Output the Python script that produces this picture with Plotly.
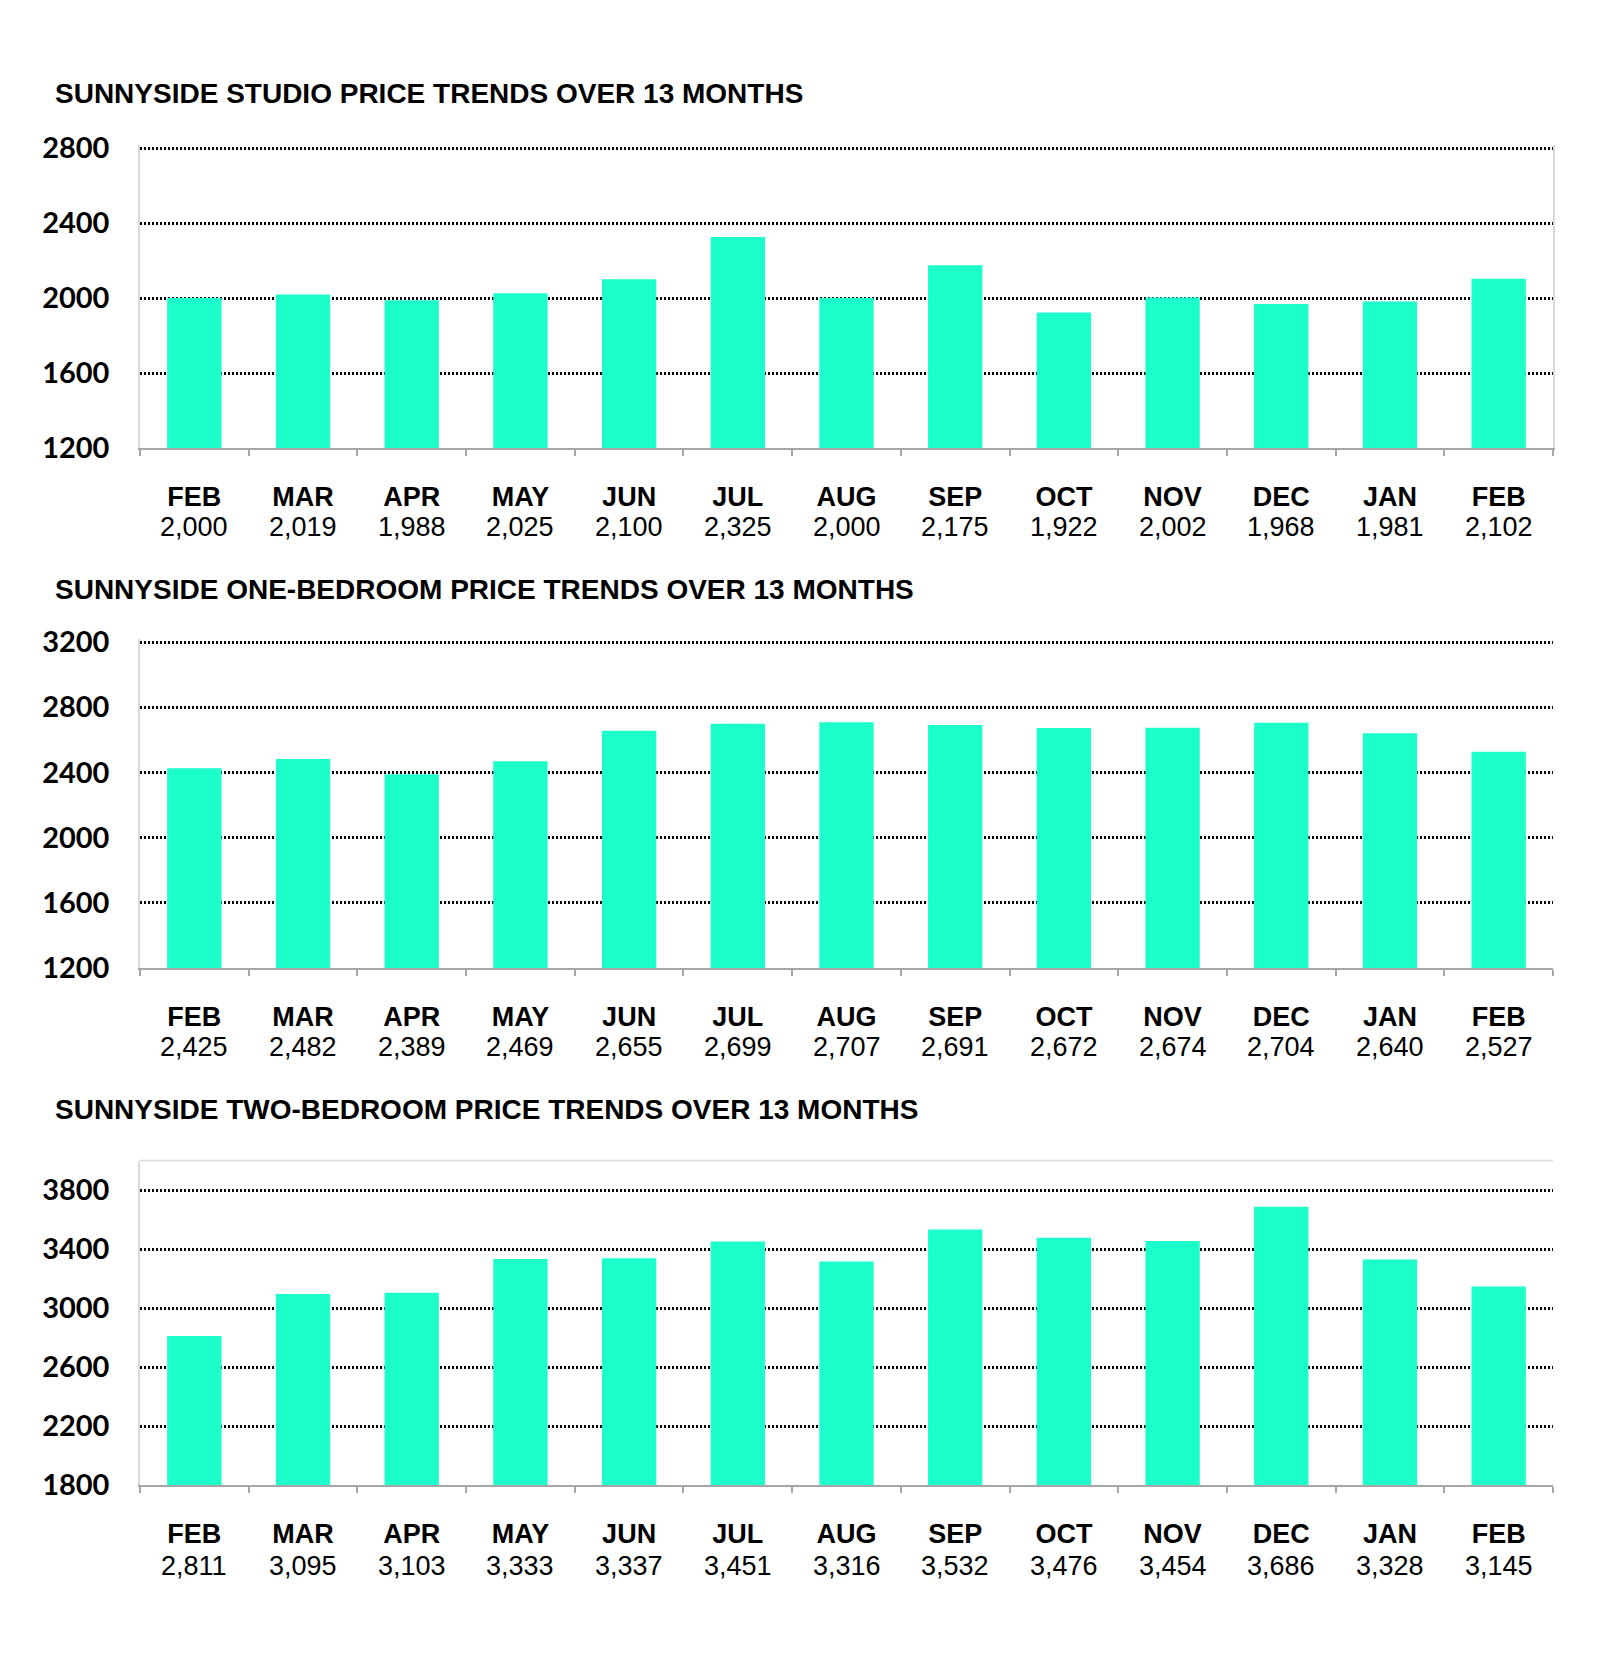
import plotly.graph_objects as go

# ---- data ----
months = ["FEB", "MAR", "APR", "MAY", "JUN", "JUL", "AUG", "SEP", "OCT", "NOV", "DEC", "JAN", "FEB"]
studio = [2000, 2019, 1988, 2025, 2100, 2325, 2000, 2175, 1922, 2002, 1968, 1981, 2102]
one_bedroom = [2425, 2482, 2389, 2469, 2655, 2699, 2707, 2691, 2672, 2674, 2704, 2640, 2527]
two_bedroom = [2811, 3095, 3103, 3333, 3337, 3451, 3316, 3532, 3476, 3454, 3686, 3328, 3145]
titles = [
    "SUNNYSIDE STUDIO PRICE TRENDS OVER 13 MONTHS",
    "SUNNYSIDE ONE-BEDROOM PRICE TRENDS OVER 13 MONTHS",
    "SUNNYSIDE TWO-BEDROOM PRICE TRENDS OVER 13 MONTHS",
]
y_ticks = [
    [1200, 1600, 2000, 2400, 2800],
    [1200, 1600, 2000, 2400, 2800, 3200],
    [1800, 2200, 2600, 3000, 3400, 3800],
]
y_ranges = [[1200, 2800], [1200, 3200], [1800, 4000]]
series = [studio, one_bedroom, two_bedroom]

# ---- layout geometry (page pixels) ----
PAGE_OFF = 8           # default body margin of the html page
W, H = 1600 - 2 * PAGE_OFF, 1667 - 2 * PAGE_OFF
panels_px = [(148, 448), (642, 968), (1160.5, 1485)]  # top, bottom
head_room = [16, 16, 0]   # extra range above the top tick so its gridline is drawn
title_y = [94, 589, 1109]
value_offset = [79, 79, 81]
x_left, x_right = 140, 1553

def px(x):
    return (x - PAGE_OFF) / W

def py(y):
    return 1 - (y - PAGE_OFF) / H

BAR = "#1CFFCB"
AXIS_GRAY = "#A6A6A6"
LIGHT_GRAY = "#D9D9D9"

keys = [f"{m}-{i}" for i, m in enumerate(months)]

fig = go.Figure()
annotations = []
shapes = []

for p in range(3):
    n = "" if p == 0 else str(p + 1)
    xa, ya = "x" + n, "y" + n
    top, bot = panels_px[p]
    lo, hi = y_ranges[p]
    scale = (bot - top) / (hi - lo)
    hi_ext = hi + head_room[p]
    top_ext = top - head_room[p] * scale
    fig.add_trace(go.Bar(
        x=keys, y=series[p], xaxis=xa, yaxis=ya,
        marker=dict(color=BAR, line=dict(width=0)),
        hoverinfo="skip", showlegend=False,
    ))
    fig.layout["xaxis" + n] = dict(
        domain=[px(x_left), px(x_right)],
        anchor=ya,
        type="category",
        categoryorder="array", categoryarray=keys,
        tickmode="array", tickvals=keys, ticktext=months,
        tickson="boundaries",
        ticks="outside", ticklen=6, tickwidth=2, tickcolor=AXIS_GRAY,
        showline=True, linecolor=AXIS_GRAY, linewidth=2,
        showgrid=False, zeroline=False,
        tickfont=dict(family="Liberation Sans", size=27, color="black", weight=700),
        ticklabelstandoff=24,
        automargin=False,
        fixedrange=True,
    )
    fig.layout["yaxis" + n] = dict(
        domain=[py(bot), py(top_ext)],
        anchor=xa,
        range=[lo, hi_ext],
        tickmode="array", tickvals=y_ticks[p],
        ticktext=[str(v) for v in y_ticks[p]],
        showgrid=True, gridcolor="black", gridwidth=2.5, griddash="2px,2px",
        showline=True, linecolor=LIGHT_GRAY, linewidth=1.5,
        mirror=(p == 0),
        zeroline=False, ticks="",
        tickfont=dict(family="Lato", size=29, color="black", weight=700),
        ticklabelstandoff=23,
        automargin=False,
        fixedrange=True,
    )
    # title
    annotations.append(dict(
        text=titles[p], xref="paper", yref="paper",
        x=px(53), y=py(title_y[p]), xanchor="left", yanchor="middle",
        showarrow=False,
        font=dict(family="Liberation Sans", size=28, color="black", weight=700),
    ))
    # value row under month labels
    for k, v in zip(keys, series[p]):
        annotations.append(dict(
            text=f"{v:,}", xref=xa, yref="paper",
            x=k, y=py(bot + value_offset[p]), xanchor="center", yanchor="middle",
            showarrow=False,
            font=dict(family="Liberation Sans", size=27, color="black"),
        ))

# light top border on third panel
shapes.append(dict(
    type="line", xref="x3 domain", yref="y3 domain",
    x0=0, x1=1, y0=1, y1=1, line=dict(color=LIGHT_GRAY, width=1.5),
))

fig.update_layout(
    width=W, height=H,
    autosize=False,
    margin=dict(l=0, r=0, t=0, b=0, pad=0, autoexpand=False),
    paper_bgcolor="white", plot_bgcolor="white",
    bargap=0.5,
    annotations=annotations,
    shapes=shapes,
)

fig.write_html("out.html")
